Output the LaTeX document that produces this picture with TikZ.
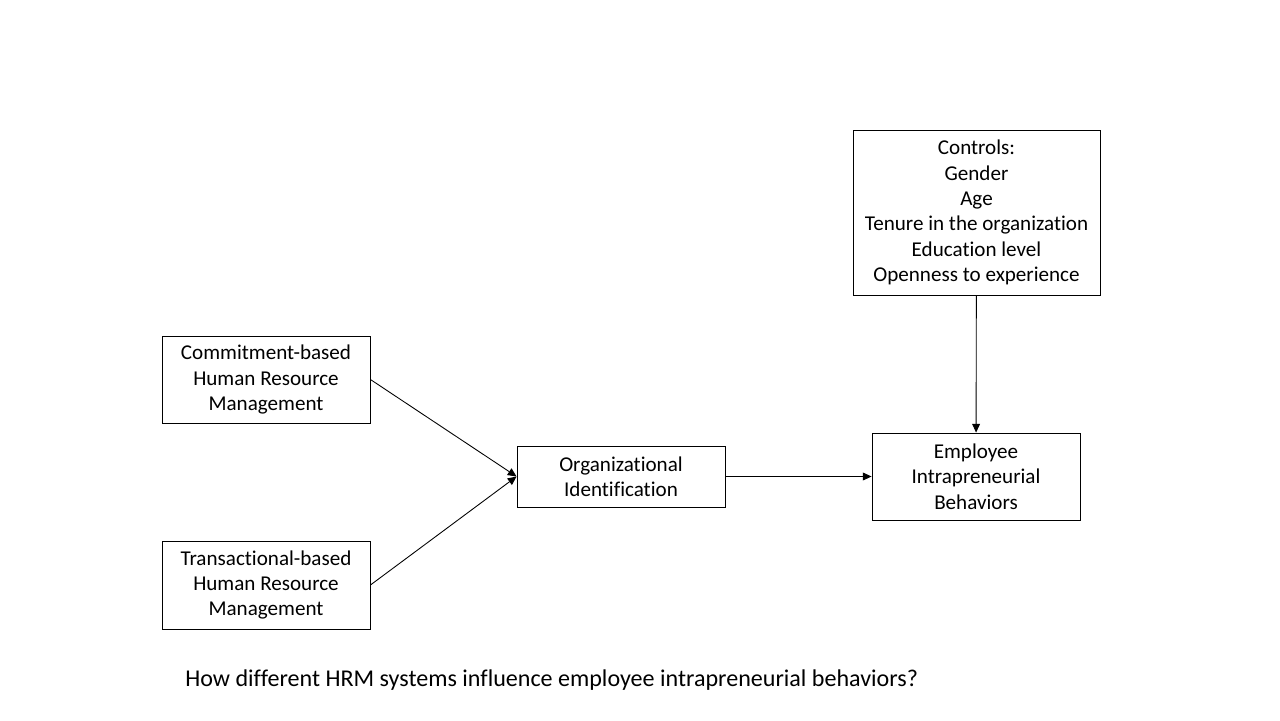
\documentclass[tikz,border=0pt]{standalone}
\usepackage{fontspec}
\setmainfont{Carlito}[Ligatures=CommonOff]
\usepackage{tikz}
\usetikzlibrary{arrows.meta, backgrounds}

\begin{document}
\begin{tikzpicture}[background rectangle/.style={fill=white}, show background rectangle]
            \useasboundingbox (0,0) rectangle (25.6,-14.4);
            \begin{scope}[every node/.style={rectangle,draw=black,line width=0.5pt,align=center,inner sep=0pt,
                          font=\fontsize{12}{14.4}\selectfont}]
                \node[minimum width=4.94cm, minimum height=3.30cm] (ctrl) at (19.53,-4.25)
                    {Controls:\\Gender\\Age\\Tenure in the organization\\Education level\\Openness to experience};
                \node[minimum width=4.16cm, minimum height=1.74cm] (cb) at (5.32,-7.59)
                    {Commitment-based\\Human Resource\\Management};
                \node[minimum width=4.16cm, minimum height=1.76cm] (tb) at (5.32,-11.70)
                    {Transactional-based\\Human Resource\\Management};
                \node[minimum width=4.16cm, minimum height=1.22cm] (oi) at (12.42,-9.53)
                    {Organizational\\Identification};
                \node[minimum width=4.16cm, minimum height=1.74cm] (eib) at (19.52,-9.53)
                    {Employee\\Intrapreneurial\\Behaviors};
            \end{scope}

            \node[anchor=west, inner sep=0pt, font=\fontsize{13.7}{16.5}\selectfont] (q) at (3.70,-13.6)
                {How different HRM systems influence employee intrapreneurial behaviors?};

            \begin{scope}[>={Triangle[length=5pt,width=4.5pt]},
                          every edge/.style={draw=black, line width=0.5pt}]
                \path[->] (cb.east) edge (oi.west);
                \path[->] (tb.east) edge (oi.west);
                \path[->] (oi) edge (eib);
                \path[->] (ctrl) edge (eib);
            \end{scope}
\end{tikzpicture}
\end{document}
